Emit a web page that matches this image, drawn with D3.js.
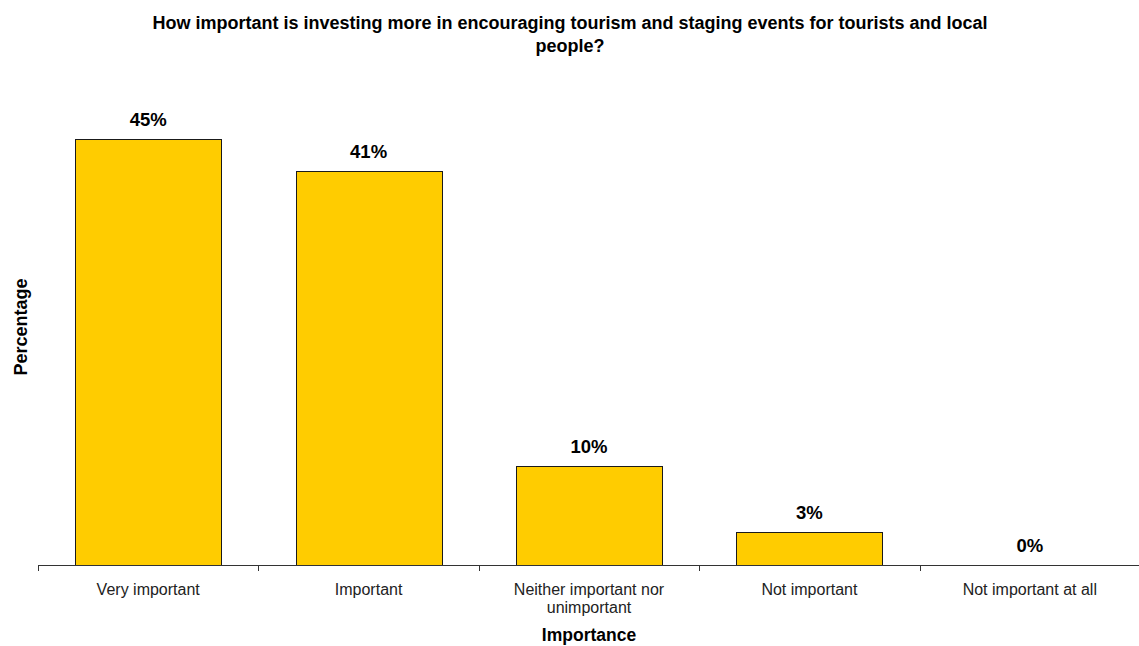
<!DOCTYPE html>
<html>
<head>
<meta charset="utf-8">
<script src="https://cdn.jsdelivr.net/npm/d3@7"></script>
<style>
  html, body { margin: 0; padding: 0; background: #fff; }
  svg { display: block; font-family: "Liberation Sans", Arial, sans-serif; }
</style>
</head>
<body>
<svg id="chart" width="1139" height="646"></svg>
<script>
const categories = ["Very important", "Important", "Neither important nor unimportant", "Not important", "Not important at all"];
const values = [44.9, 41.5, 10.4, 3.5, 0];
const valueLabels = ["45%", "41%", "10%", "3%", "0%"];
const titleLines = ["How important is investing more in encouraging tourism and staging events for tourists and local", "people?"];
const xTitle = "Importance";
const yTitle = "Percentage";

const svg = d3.select("#chart");
const plot = { left: 38, right: 1140, top: 90.5, bottom: 565 };

const x = d3.scaleBand().domain(categories).range([plot.left, plot.right]).paddingInner(0.338).paddingOuter(0.169);
const xTicks = d3.scaleBand().domain(categories).range([plot.left, plot.right]);
const y = d3.scaleLinear().domain([0, 50]).range([plot.bottom, plot.top]);

// Title
svg.append("text")
  .attr("x", 570).attr("y", 29)
  .attr("text-anchor", "middle")
  .style("font-size", "18px").style("font-weight", "bold").attr("fill", "#000")
  .selectAll("tspan").data(titleLines).join("tspan")
  .attr("x", 570).attr("dy", (d, i) => i === 0 ? 0 : 23)
  .text(d => d);

// Bars
svg.append("g").selectAll("rect").data(categories).join("rect")
  .attr("x", d => Math.round(x(d)) + 0.5)
  .attr("y", (d, i) => Math.round(y(values[i])) + 0.5)
  .attr("width", Math.round(x.bandwidth()))
  .attr("height", (d, i) => Math.max(0, Math.round(y(0)) - Math.round(y(values[i]))))
  .attr("fill", "#FFCC00")
  .attr("stroke", "#1a1a1a")
  .attr("stroke-width", 1)
  .style("display", (d, i) => values[i] > 0 ? null : "none");

// Value labels
svg.append("g").selectAll("text").data(categories).join("text")
  .attr("x", d => x(d) + x.bandwidth() / 2)
  .attr("y", (d, i) => y(values[i]) - 13)
  .attr("text-anchor", "middle")
  .style("font-size", "18.5px").style("font-weight", "bold").attr("fill", "#000")
  .text((d, i) => valueLabels[i]);

// X axis
const axisG = svg.append("g").attr("transform", `translate(0,${plot.bottom})`);
axisG.append("line")
  .attr("x1", plot.left).attr("x2", plot.right)
  .attr("y1", 0.5).attr("y2", 0.5)
  .attr("stroke", "#333").attr("stroke-width", 1);
const tickPos = categories.map(c => xTicks(c)).concat([plot.right]);
axisG.selectAll("line.tick").data(tickPos).join("line").attr("class", "tick")
  .attr("x1", d => Math.round(d) + 0.5).attr("x2", d => Math.round(d) + 0.5)
  .attr("y1", 0).attr("y2", 6)
  .attr("stroke", "#333");

const catText = axisG.selectAll("text.cat").data(categories).join("text").attr("class", "cat")
  .attr("x", d => xTicks(d) + xTicks.bandwidth() / 2)
  .attr("y", 30)
  .attr("text-anchor", "middle")
  .style("font-size", "16px").attr("fill", "#222");

catText.each(function(d) {
  const t = d3.select(this);
  const cx = +t.attr("x");
  const words = d.split(" ");
  let line = [], lines = [];
  const tmp = t.append("tspan");
  words.forEach(w => {
    line.push(w);
    tmp.text(line.join(" "));
    if (tmp.node().getComputedTextLength() > 180 && line.length > 1) {
      line.pop();
      lines.push(line.join(" "));
      line = [w];
    }
  });
  lines.push(line.join(" "));
  tmp.remove();
  t.selectAll("tspan").data(lines).join("tspan")
    .attr("x", cx).attr("dy", (l, i) => i === 0 ? 0 : 18)
    .text(l => l);
});

// Axis titles
svg.append("text")
  .attr("x", 589).attr("y", 641)
  .attr("text-anchor", "middle")
  .style("font-size", "17.5px").style("font-weight", "bold").attr("fill", "#000")
  .text(xTitle);

svg.append("text")
  .attr("transform", `translate(27,327) rotate(-90)`)
  .attr("text-anchor", "middle")
  .style("font-size", "18px").style("font-weight", "bold").attr("fill", "#000")
  .text(yTitle);
</script>
</body>
</html>
